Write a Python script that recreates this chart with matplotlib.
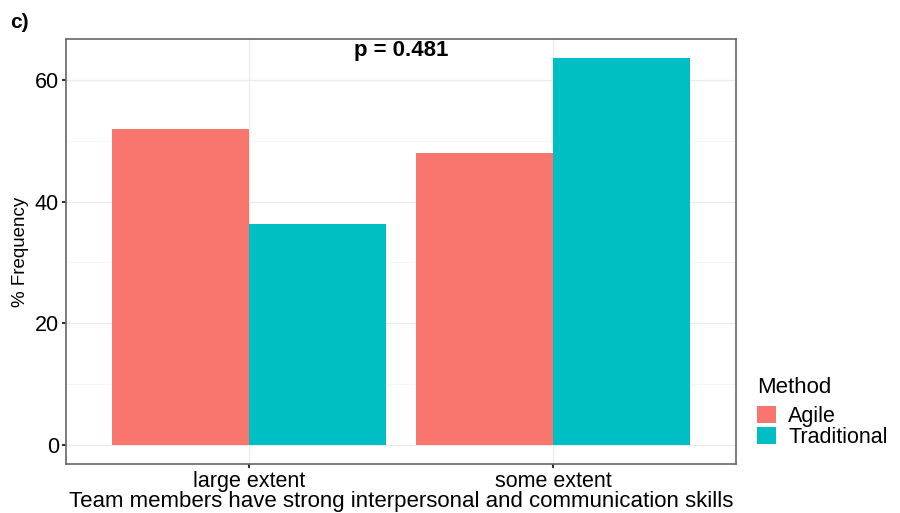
import numpy as np
import matplotlib
matplotlib.use("Agg")
from matplotlib import pyplot as plt
from matplotlib.patches import Patch

plt.rcParams['font.family'] = ['Liberation Sans', 'DejaVu Sans']

categories = ["large extent", "some extent"]
methods = ["Agile", "Traditional"]
agile = [52.0, 48.0]
traditional = [36.4, 63.6]
colors = ["#F8766D", "#00BFC4"]
p_text = "p = 0.481"

fig = plt.figure(figsize=(9, 5.13), dpi=100)
ax = fig.add_axes([66 / 900, 49 / 513, 670 / 900, 425 / 513])

x = np.arange(1, len(categories) + 1)
w = 0.45
ax.bar(x - w / 2, agile, width=w, color=colors[0], zorder=3)
ax.bar(x + w / 2, traditional, width=w, color=colors[1], zorder=3)

ymax = max(max(agile), max(traditional))
ax.set_ylim(-0.05 * ymax, 1.05 * ymax)
ax.set_xlim(0.4, 2.6)

ax.set_xticks(x)
ax.set_xticklabels(categories)
ax.set_yticks([0, 20, 40, 60])
ax.set_yticks([10, 30, 50], minor=True)
ax.grid(True, which="major", color="#EBEBEB", lw=0.9, zorder=0)
ax.grid(True, which="minor", axis="y", color="#F2F2F2", lw=0.5, zorder=0)
ax.tick_params(which="major", length=3, width=1.5, color="#333333",
               labelsize=15.5, labelcolor="black", pad=2)
ax.tick_params(which="minor", length=0)
for s in ax.spines.values():
    s.set_color("#666666")
    s.set_linewidth(1.2)

ax.set_xlabel("Team members have strong interpersonal and communication skills",
              fontsize=16, labelpad=-1)
ax.set_ylabel("% Frequency", fontsize=13.5, labelpad=4)

ax.text(1.5, 64.9, p_text, ha="center", va="center", fontsize=16,
        fontweight="bold", zorder=4)
fig.text(10 / 900, 1 - 22 / 513, "c)", ha="left", va="center",
         fontsize=15, fontweight="bold")

handles = [Patch(facecolor=c, edgecolor="none") for c in colors]
leg = fig.legend(handles, methods, title="Method", loc="upper left",
                 bbox_to_anchor=(744 / 900, 1 - 364 / 513), frameon=False,
                 fontsize=15.5, title_fontsize=16, handlelength=0.9,
                 handleheight=0.85, handletextpad=0.55, labelspacing=0.0,
                 alignment="left", borderaxespad=0.2)
leg._legend_box.sep = 6

fig.savefig("out.png", dpi=100)
